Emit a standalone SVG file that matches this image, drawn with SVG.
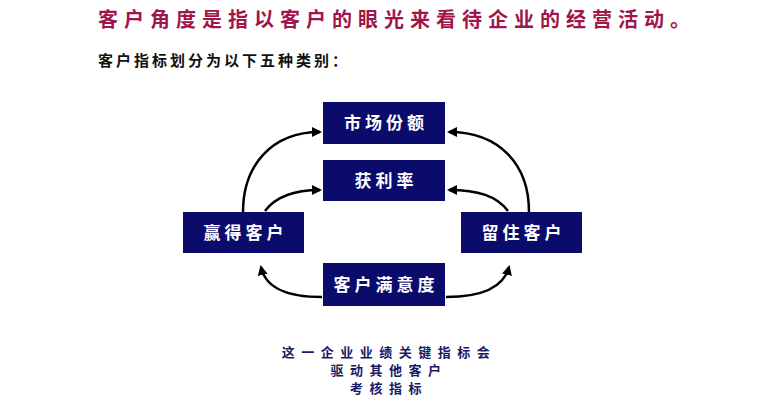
<svg xmlns="http://www.w3.org/2000/svg" width="771" height="417" viewBox="0 0 771 417">
<defs>
<marker id="ah" viewBox="0 0 10 10" refX="8" refY="5" markerWidth="4" markerHeight="4" orient="auto" markerUnits="strokeWidth">
<path d="M0,0 L10,5 L0,10 Z" fill="#000"/>
</marker>
<style>
text{font-family:"Noto Sans CJK SC","Noto Sans",sans-serif;font-weight:bold}
.title{fill:#a0154a;font-size:20px;letter-spacing:6px}
.sub{fill:#111;font-size:15px;letter-spacing:3px}
.box{fill:#0b0b6c}
.lbl{fill:#fff;font-size:17px;letter-spacing:4px;text-anchor:middle}
.note{fill:#1a1a66;font-size:13px;letter-spacing:6.5px;text-anchor:middle}
.conn{fill:none;stroke:#000;stroke-width:2.5;marker-end:url(#ah)}
</style>
</defs>
<rect width="771" height="417" fill="#fff"/>
<text class="title" x="98" y="27">客户角度是指以客户的眼光来看待企业的经营活动。</text>
<text class="sub" x="98" y="66">客户指标划分为以下五种类别：</text>
<g id="connectors">
<path class="conn" d="M243,212 C243,165 272,132 320,132"/>
<path class="conn" d="M265,211 C276,196 294,190 320,190"/>
<path class="conn" d="M529,212 C529,165 500,132 449,132"/>
<path class="conn" d="M508,211 C497,196 478,190 449,190"/>
<path class="conn" d="M322,297 C290,297 266,290 261,267"/>
<path class="conn" d="M446,297 C478,297 503,290 509,267"/>
</g>
<g id="n-market"><rect class="box" x="323" y="102" width="122" height="42"/><text class="lbl" x="386" y="129">市场份额</text></g>
<g id="n-profit"><rect class="box" x="323" y="160" width="122" height="41"/><text class="lbl" x="386" y="187">获利率</text></g>
<g id="n-acquire"><rect class="box" x="183" y="212" width="121" height="41"/><text class="lbl" x="245.5" y="239">赢得客户</text></g>
<g id="n-retain"><rect class="box" x="461" y="212" width="121" height="41"/><text class="lbl" x="523.5" y="239">留住客户</text></g>
<g id="n-satisfaction"><rect class="box" x="323" y="263" width="122" height="43"/><text class="lbl" x="386" y="291">客户满意度</text></g>
<g id="note">
<text class="note" x="389" y="357">这一企业业绩关键指标会</text>
<text class="note" x="389" y="375">驱动其他客户</text>
<text class="note" x="389" y="393">考核指标</text>
</g>
</svg>
